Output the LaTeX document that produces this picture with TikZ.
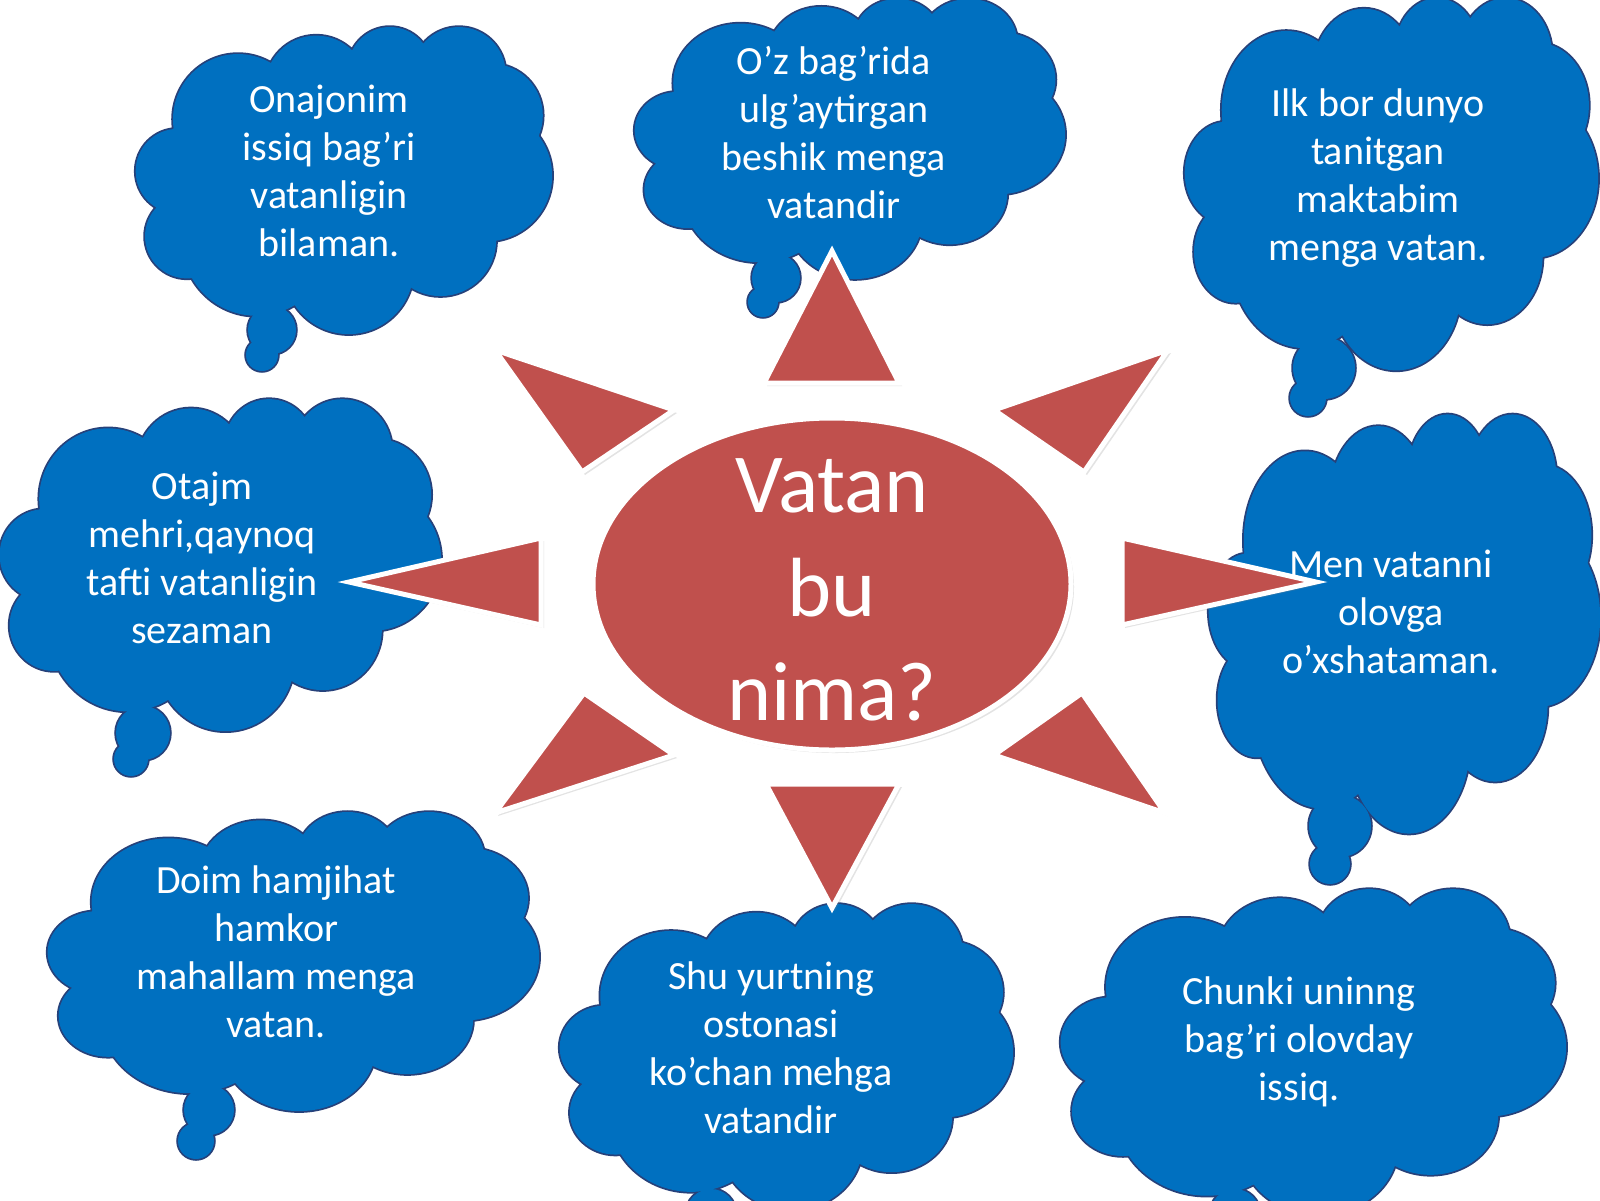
\documentclass[tikz,border=0pt]{standalone}
\usepackage{fontspec}
\setmainfont{Carlito}
\usetikzlibrary{shadows}
\definecolor{cloudblue}{HTML}{0070C0}
\definecolor{cloudedge}{HTML}{26417A}
\definecolor{sunred}{HTML}{C0504D}
\def\puffs{%
(0.2452,0.3040) ellipse [x radius=0.1563, y radius=0.2127]
(0.4332,0.1994) ellipse [x radius=0.1234, y radius=0.1682]
(0.6102,0.1409) ellipse [x radius=0.1010, y radius=0.1376]
(0.7763,0.1561) ellipse [x radius=0.1124, y radius=0.1527]
(0.8545,0.2915) ellipse [x radius=0.1234, y radius=0.1684]
(0.8436,0.4879) ellipse [x radius=0.1568, y radius=0.2134]
(0.7319,0.6977) ellipse [x radius=0.1339, y radius=0.1821]
(0.5114,0.7904) ellipse [x radius=0.1563, y radius=0.2133]
(0.2894,0.6998) ellipse [x radius=0.1787, y radius=0.2441]
(0.1226,0.6851) ellipse [x radius=0.1009, y radius=0.1370]
(0.0998,0.4727) ellipse [x radius=0.1006, y radius=0.1376]}
\def\puffpoly{(0.0903,0.3326) -- (0.3242,0.1204) -- (0.5198,0.0795) -- (0.6905,0.0574) -- (0.8869,0.1291) -- (0.9680,0.3579) -- (0.8658,0.6992) -- (0.6610,0.8522) -- (0.3815,0.9090) -- (0.1344,0.8211) -- (0.0489,0.5915) -- cycle}
\newcommand{\cloudat}[5]{%
  \begin{scope}[shift={(#1,#2)},xscale=#3,yscale=#4]
    \draw[cloudline] \puffs;
  \end{scope}
  \draw[cloudline] #5;
  \begin{scope}[shift={(#1,#2)},xscale=#3,yscale=#4]
    \fill[cloudblue] \puffs;
    \fill[cloudblue] \puffpoly;
  \end{scope}
  \fill[cloudblue] #5;
}
\tikzset{
  cloudline/.style={draw=cloudedge, line width=3.5pt},
  cloudtext/.style={text=white, align=center, inner sep=0pt, font=\fontsize{40}{48}\selectfont},
  sunpart/.style={fill=sunred, draw=white, line width=5pt, line join=miter,
    drop shadow={shadow xshift=3pt, shadow yshift=-3pt, opacity=0.22, fill=black!50}},
}
\begin{document}
\begin{tikzpicture}[x=1pt,y=-1pt]
\useasboundingbox (0,0) rectangle (1600,1200);
\fill[white] (0,0) rectangle (1600,1200);
\clip (0,0) rectangle (1600,1200);
% clouds
\cloudat{136}{26}{416}{307}{(272,330) circle [radius=24] (262,355) circle [radius=16]}
\cloudat{635}{-2}{430}{280}{(776,278) circle [radius=24] (763,302) circle [radius=15]}
\cloudat{1185}{-3}{413}{372}{(1324,368) circle [radius=31] (1308,398) circle [radius=18]}
\cloudat{0}{398}{441}{332}{(143,733) circle [radius=27] (131,759) circle [radius=17]}
\cloudat{1209}{413}{391}{419}{(1340,826) circle [radius=31] (1330,864) circle [radius=20]}
\cloudat{48}{811}{491}{299}{(209,1110) circle [radius=25] (196,1141) circle [radius=18]}
\cloudat{560}{903}{453}{306}{(711,1214) circle [radius=25]}
\cloudat{1061}{888}{505}{326}{(1235,1214) circle [radius=25]}
% sun rays
\draw[sunpart] (832,251) -- (899,383) -- (764,383) -- cycle;
\draw[sunpart] (832,908) -- (766,784) -- (899,784) -- cycle;
\draw[sunpart] (349,582) -- (541,538) -- (541,625) -- cycle;
\draw[sunpart] (1316,582) -- (1122,625) -- (1122,538) -- cycle;
\draw[sunpart] (495,350) -- (674,410) -- (582,472) -- cycle;
\draw[sunpart] (1168,350) -- (1084,472) -- (994,410) -- cycle;
\draw[sunpart] (495,813) -- (584,693) -- (674,755) -- cycle;
\draw[sunpart] (1165,813) -- (994,755) -- (1082,693) -- cycle;
\draw[sunpart] (832,584) ellipse [x radius=239, y radius=166];
% texts
\node[cloudtext] (t1) at (329,171) {Onajonim\\issiq bag’ri\\vatanligin\\bilaman.};
\node[cloudtext] (t2) at (834,133) {O’z bag’rida\\ulg’aytirgan\\beshik menga\\vatandir};
\node[cloudtext] (t3) at (1378,178) {Ilk bor dunyo\\tanitgan\\maktabim\\menga vatan.};
\node[cloudtext] (t4) at (202,558) {Otajm\\mehri,qaynoq\\tafti vatanligin\\sezaman};
\node[cloudtext] (t5) at (1391,612) {Men vatanni\\olovga\\o’xshataman.};
\node[cloudtext] (t6) at (276,952) {Doim hamjihat\\hamkor\\mahallam menga\\vatan.};
\node[cloudtext] (t7) at (771,1048) {Shu yurtning\\ostonasi\\ko’chan mehga\\vatandir};
\node[cloudtext] (t8) at (1299,1042) {Chunki uninng\\bag’ri olovday\\issiq.};
\node[text=white, align=center, inner sep=0pt, font=\fontsize{84}{104}\selectfont] (center) at (832,590) {Vatan\\bu\\nima?};
\end{tikzpicture}
\end{document}
